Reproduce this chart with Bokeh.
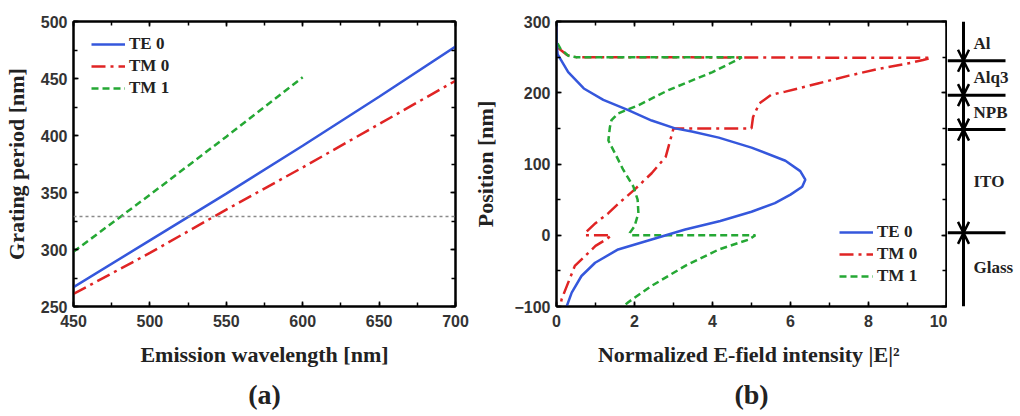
from bokeh.plotting import figure
from bokeh.models import (Range1d, LinearAxis, SingleIntervalTicker, Legend, LegendItem,
                          Title, Arrow, OpenHead, ColumnDataSource, Span)
from bokeh.layouts import row
from bokeh.embed import file_html
from bokeh.resources import INLINE
from bokeh.core.properties import value

# ---------------- Panel (a) data ----------------
wavelength = [450, 500, 550, 600, 650, 700]
te0_period = [267, 308, 349, 391, 434, 478]
tm0_period = [261, 297, 335, 372, 410, 448]
tm1_wavelength = [450, 500, 550, 600]
tm1_period = [298, 348, 399, 451]
target_period = 329

# ---------------- Panel (b) data ----------------
te0_int = [0.0, 0.0, 0.03, 0.3, 0.7, 1.2, 1.84, 2.44, 3.04, 3.47, 4.16, 5.0, 5.87, 6.25,
           6.38, 6.3, 6.0, 5.6, 5.0, 4.2, 3.3, 2.44, 1.58, 0.99, 0.64, 0.39, 0.26]
te0_pos = [300, 270, 254, 229, 206, 190, 175.5, 161, 150, 145.5, 137, 123, 104.6, 90,
           78, 68, 57, 45, 33, 20, 8, -5.9, -19.9, -38.6, -57.2, -80.5, -100]

tm0_int = [0.0, 0.0, 0.06, 0.27, 0.49, 9.6, 9.4, 9.0, 8.3, 7.5, 6.7, 5.87, 5.5, 5.2, 5.04,
           5.0, 3.0, 2.95, 2.8, 2.44, 2.0, 1.6, 1.33, 1.0, 0.73, 0.75, 1.4, 1.3, 1.0, 0.47,
           0.13, 0.1]
tm0_pos = [300, 265, 262, 253, 250, 249, 246, 241, 234, 224, 213, 201.6, 197, 185, 166,
           150, 150, 140, 110, 87, 64, 45, 31, 17, 3, 0, 0, -5, -15, -43,
           -90, -100]

tm1_int = [0.0, 0.0, 0.1, 0.3, 0.5, 4.75, 4.7, 4.0, 2.87, 2.1, 1.58, 1.41, 1.37, 1.33, 1.5,
           1.71, 1.97, 2.08, 2.1, 2.0, 1.88, 1.9, 5.1, 4.93, 4.16, 3.3, 2.44, 1.84, 1.71]
tm1_pos = [300, 272, 262, 252, 250, 250, 248, 229, 203.7, 182.5, 171, 161.6, 152, 133, 115,
           92, 68.5, 50, 31, 12.6, 3.3, 0, 0, -6, -20, -43, -71, -94, -100]

layer_bounds = [0, 150, 200, 250]
layer_names = ["Al", "Alq3", "NPB", "ITO", "Glass"]
layer_mid = [275, 225, 175, 75, -50]

BLUE = "#3557dc"
RED = "#e02424"
GREEN = "#25a834"
SERIF = "Liberation Serif"
SANS = "Liberation Sans"


def style_axis(ax, labels=True):
    ax.axis_line_width = 2
    ax.axis_line_color = "black"
    ax.major_tick_in = 5
    ax.major_tick_out = 0
    ax.minor_tick_in = 4
    ax.minor_tick_out = 0
    ax.major_tick_line_width = 1.5
    ax.minor_tick_line_width = 1.5
    ax.major_tick_line_color = "black"
    ax.minor_tick_line_color = "black"
    ax.major_label_text_font = SANS
    ax.major_label_text_font_style = "bold"
    ax.major_label_text_font_size = "16px"
    ax.major_label_text_color = "#333333"
    ax.axis_label_text_font = SERIF
    ax.axis_label_text_font_style = "bold"
    ax.axis_label_text_font_size = "22px"
    ax.axis_label_text_color = "#222222"
    if not labels:
        ax.major_label_text_font_size = "1px"
        ax.major_label_text_alpha = 0
        ax.major_label_text_color = None
        ax.major_label_standoff = 0
        ax.axis_label = None


def make_legend(items, loc):
    lg = Legend(items=items, location=loc, border_line_color=None, background_fill_alpha=0,
                padding=0, margin=0, spacing=0, glyph_width=34, glyph_height=22,
                label_height=22, label_standoff=4, label_text_font=SERIF,
                label_text_font_style="bold", label_text_font_size="17px",
                label_text_color="#222222")
    return lg


# ---------------- Figure (a) ----------------
pa = figure(width=470, height=416, x_range=Range1d(450, 700), y_range=Range1d(250, 500),
            output_backend="svg", toolbar_location=None, min_border_left=65,
            min_border_right=15, min_border_top=21, min_border_bottom=108)
pa.xaxis.ticker = SingleIntervalTicker(interval=50, num_minor_ticks=2)
pa.yaxis.ticker = SingleIntervalTicker(interval=50, num_minor_ticks=2)
pa.xaxis.axis_label = "Emission wavelength [nm]"
pa.yaxis.axis_label = "Grating period [nm]"
for ax in pa.xaxis + pa.yaxis:
    style_axis(ax)
pa.xaxis.major_label_standoff = 8
pa.yaxis.major_label_standoff = 6
pa.xaxis.axis_label_standoff = 12
pa.yaxis.axis_label_standoff = 9
ta = LinearAxis(ticker=SingleIntervalTicker(interval=50, num_minor_ticks=2))
ra = LinearAxis(ticker=SingleIntervalTicker(interval=50, num_minor_ticks=2))
style_axis(ta, False)
style_axis(ra, False)
pa.add_layout(ta, "above")
pa.add_layout(ra, "right")
pa.xgrid.grid_line_color = None
pa.ygrid.grid_line_color = None
pa.outline_line_color = "black"
pa.outline_line_width = 2

pa.add_layout(Span(location=target_period, dimension="width", line_color="#8a8a8a",
                   line_dash="3 3", line_width=1.5))
r_tm1 = pa.line(tm1_wavelength, tm1_period, line_color=GREEN, line_width=2.5, line_dash="7 4")
r_tm0 = pa.line(wavelength, tm0_period, line_color=RED, line_width=2.5, line_dash="14 5 3 5")
r_te0 = pa.line(wavelength, te0_period, line_color=BLUE, line_width=2.5)
pa.add_layout(make_legend([LegendItem(label="TE 0", renderers=[r_te0]),
                           LegendItem(label="TM 0", renderers=[r_tm0]),
                           LegendItem(label="TM 1", renderers=[r_tm1])], (18, 207)))
pa.add_layout(Title(text="(a)", align="center", text_font=SERIF, text_font_style="bold",
                    text_font_size="28px", text_color="#222222", standoff=14), "below")

# ---------------- Figure (b) ----------------
pb = figure(width=477, height=416, x_range=Range1d(0, 10), y_range=Range1d(-100, 300),
            output_backend="svg", toolbar_location=None, min_border_left=84,
            min_border_right=1, min_border_top=21, min_border_bottom=109)
pb.xaxis.ticker = SingleIntervalTicker(interval=2, num_minor_ticks=2)
pb.yaxis.ticker = SingleIntervalTicker(interval=100, num_minor_ticks=2)
pb.xaxis.axis_label = "Normalized E-field intensity  |E|\u00b2"
pb.yaxis.axis_label = "Position [nm]"
for ax in pb.xaxis + pb.yaxis:
    style_axis(ax)
pb.xaxis.major_label_standoff = 8
pb.yaxis.major_label_standoff = 6
pb.xaxis.axis_label_standoff = 12
pb.yaxis.axis_label_standoff = 13
tb = LinearAxis(ticker=SingleIntervalTicker(interval=2, num_minor_ticks=2))
rb = LinearAxis(ticker=SingleIntervalTicker(interval=100, num_minor_ticks=2))
style_axis(tb, False)
style_axis(rb, False)
pb.add_layout(tb, "above")
pb.add_layout(rb, "right")
pb.xgrid.grid_line_color = None
pb.ygrid.grid_line_color = None
pb.outline_line_color = "black"
pb.outline_line_width = 2

s_tm0 = pb.line(tm0_int, tm0_pos, line_color=RED, line_width=2.5, line_dash="14 5 3 5")
s_tm1 = pb.line(tm1_int, tm1_pos, line_color=GREEN, line_width=2.5, line_dash="7 4")
s_te0 = pb.line(te0_int, te0_pos, line_color=BLUE, line_width=2.5)
pb.add_layout(make_legend([LegendItem(label="TE 0", renderers=[s_te0]),
                           LegendItem(label="TM 0", renderers=[s_tm0]),
                           LegendItem(label="TM 1", renderers=[s_tm1])], (283, 19)))
pb.add_layout(Title(text="(b)", align="center", text_font=SERIF, text_font_style="bold",
                    text_font_size="28px", text_color="#222222", standoff=14), "below")

# ---------------- Structure diagram ----------------
ylo, yhi = -100 - 7, 300 + 7
pc = figure(width=73, height=416, x_range=Range1d(0, 73), y_range=Range1d(ylo, yhi),
            output_backend="svg", toolbar_location=None, min_border_left=0,
            min_border_right=0, min_border_top=16, min_border_bottom=104)
pc.axis.visible = False
pc.xgrid.grid_line_color = None
pc.ygrid.grid_line_color = None
pc.outline_line_color = None

pc.segment(x0=0, x1=58, y0=layer_bounds, y1=layer_bounds, line_color="black", line_width=3)
b_sorted = sorted(layer_bounds)
dbl = ColumnDataSource(dict(xs=[16] * 3, ys=[b_sorted[3], b_sorted[2], b_sorted[1]],
                            xe=[16] * 3, ye=[b_sorted[2], b_sorted[1], b_sorted[0]]))
sgl = ColumnDataSource(dict(xs=[16, 16], ys=[yhi, ylo], xe=[16, 16],
                            ye=[b_sorted[3], b_sorted[0]]))
pc.add_layout(Arrow(source=dbl, x_start="xs", y_start="ys", x_end="xe", y_end="ye",
                    line_width=3, start=OpenHead(size=11, line_width=2.5),
                    end=OpenHead(size=11, line_width=2.5)))
pc.add_layout(Arrow(source=sgl, x_start="xs", y_start="ys", x_end="xe", y_end="ye",
                    line_width=3, end=OpenHead(size=11, line_width=2.5)))
pc.text(x=26, y=layer_mid, text=layer_names, text_font=value(SERIF), text_font_style="bold",
        text_font_size="17px", text_baseline="middle", text_color="#222222")

layout = row(pa, pb, pc)
open("out.html", "w").write(file_html(layout, INLINE))
